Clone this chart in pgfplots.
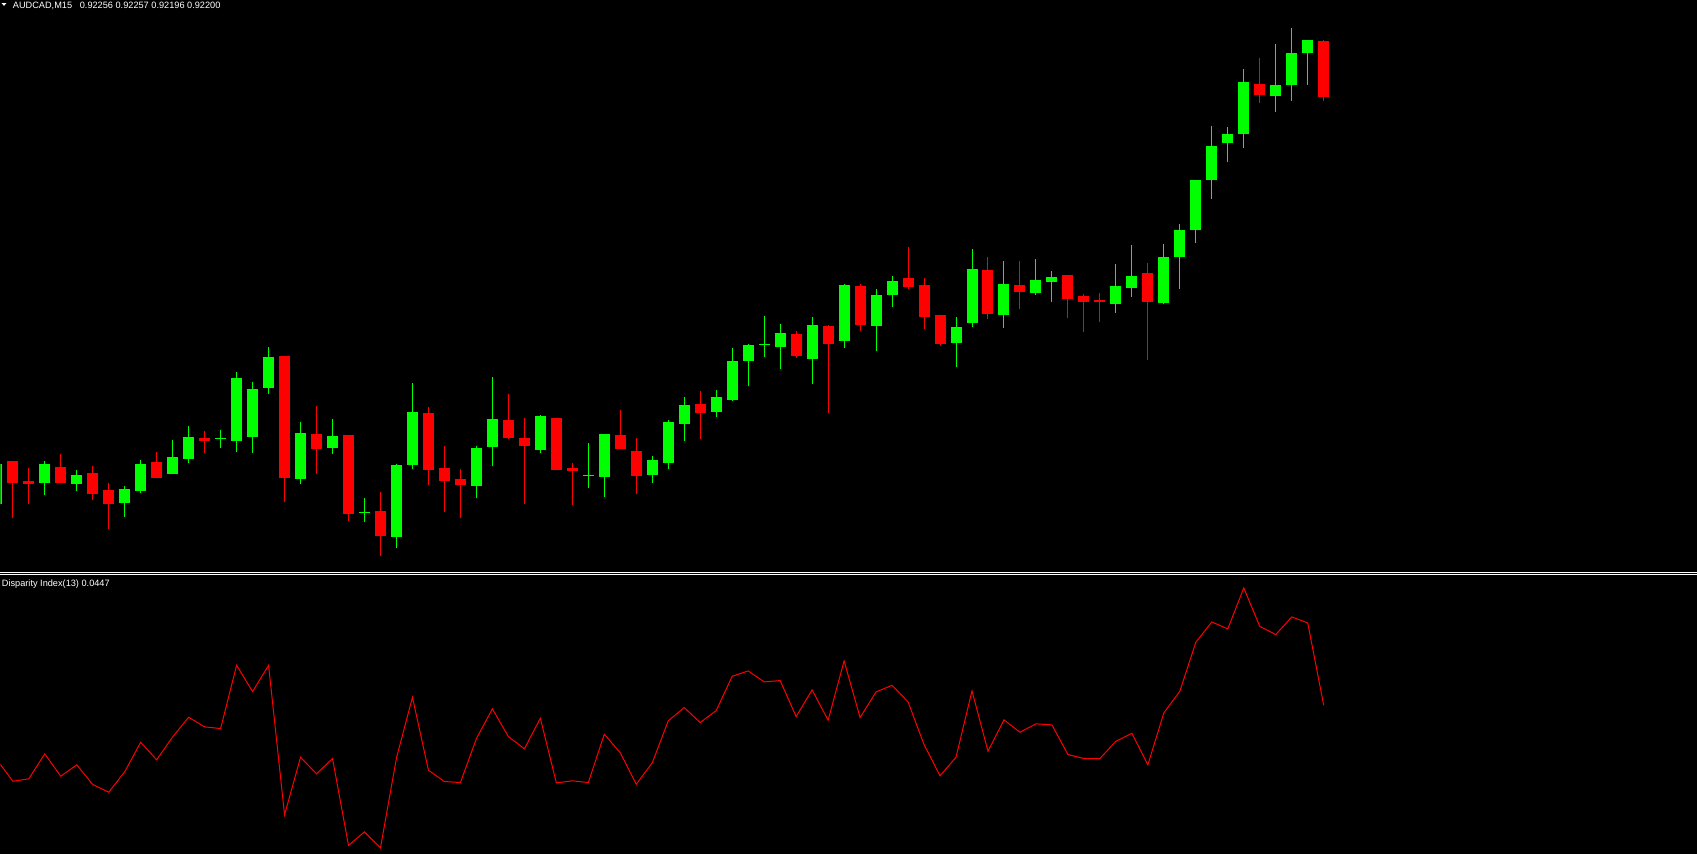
\documentclass[border=0pt]{standalone}
\usepackage{fontspec}
\setmainfont{Liberation Sans}
\usepackage{pgfplots}
\usepackage{pgfplotstable}
\pgfplotsset{compat=1.18}

\definecolor{mtgreen}{RGB}{0,255,0}
\definecolor{mtred}{RGB}{255,0,0}

% AUDCAD M15 candles: bar index, open, high, low, close
\pgfplotstableread{
i O H L C
-1 0.91793 0.91842 0.91780 0.91833
2 0.91814 0.91836 0.91802 0.91833
4 0.91813 0.91827 0.91806 0.91822
7 0.91794 0.91811 0.91780 0.91808
8 0.91806 0.91837 0.91804 0.91833
10 0.91823 0.91857 0.91823 0.91840
11 0.91838 0.91871 0.91834 0.91860
13 0.91858 0.91867 0.91849 0.91859
14 0.91856 0.91925 0.91845 0.91919
15 0.91860 0.91915 0.91844 0.91908
16 0.91909 0.91950 0.91903 0.91940
18 0.91818 0.91875 0.91813 0.91864
20 0.91849 0.91878 0.91843 0.91861
22 0.91784 0.91799 0.91775 0.91785
24 0.91760 0.91833 0.91749 0.91832
25 0.91832 0.91914 0.91828 0.91885
29 0.91811 0.91851 0.91799 0.91849
30 0.91850 0.91920 0.91831 0.91878
33 0.91847 0.91882 0.91844 0.91881
36 0.91821 0.91854 0.91809 0.91822
37 0.91820 0.91863 0.91800 0.91863
40 0.91822 0.91841 0.91814 0.91837
41 0.91834 0.91877 0.91828 0.91875
42 0.91873 0.91900 0.91856 0.91892
44 0.91885 0.91907 0.91880 0.91900
45 0.91897 0.91949 0.91896 0.91936
46 0.91936 0.91953 0.91911 0.91952
47 0.91952 0.91981 0.91940 0.91953
48 0.91950 0.91973 0.91928 0.91964
50 0.91938 0.91980 0.91913 0.91972
52 0.91956 0.92013 0.91949 0.92012
54 0.91971 0.92008 0.91946 0.92002
55 0.92002 0.92021 0.91990 0.92016
59 0.91954 0.91980 0.91930 0.91970
60 0.91974 0.92048 0.91970 0.92028
62 0.91982 0.92036 0.91969 0.92013
64 0.92004 0.92038 0.92002 0.92017
65 0.92015 0.92026 0.91995 0.92020
69 0.91993 0.92033 0.91984 0.92011
70 0.92009 0.92052 0.92000 0.92021
72 0.91994 0.92053 0.91993 0.92040
73 0.92040 0.92073 0.92008 0.92067
74 0.92067 0.92117 0.92054 0.92117
75 0.92117 0.92171 0.92098 0.92151
76 0.92154 0.92170 0.92135 0.92163
77 0.92163 0.92228 0.92149 0.92215
79 0.92201 0.92253 0.92185 0.92212
80 0.92212 0.92269 0.92196 0.92244
81 0.92244 0.92257 0.92212 0.92257
}\bull

\pgfplotstableread{
i O H L C
0 0.91836 0.91836 0.91779 0.91814
1 0.91816 0.91829 0.91793 0.91813
3 0.91830 0.91843 0.91814 0.91814
5 0.91824 0.91831 0.91797 0.91803
6 0.91807 0.91814 0.91768 0.91793
9 0.91835 0.91845 0.91819 0.91819
12 0.91859 0.91866 0.91844 0.91856
17 0.91941 0.91941 0.91795 0.91819
19 0.91863 0.91891 0.91823 0.91848
21 0.91862 0.91862 0.91776 0.91783
23 0.91786 0.91805 0.91741 0.91761
26 0.91884 0.91890 0.91812 0.91827
27 0.91829 0.91851 0.91785 0.91816
28 0.91818 0.91828 0.91779 0.91812
31 0.91877 0.91903 0.91858 0.91859
32 0.91859 0.91879 0.91793 0.91851
34 0.91879 0.91879 0.91827 0.91827
35 0.91829 0.91834 0.91792 0.91826
38 0.91862 0.91887 0.91848 0.91848
39 0.91846 0.91859 0.91803 0.91821
43 0.91893 0.91906 0.91858 0.91884
49 0.91963 0.91966 0.91939 0.91941
51 0.91971 0.91972 0.91884 0.91953
53 0.92011 0.92013 0.91966 0.91972
56 0.92019 0.92050 0.92008 0.92010
57 0.92012 0.92019 0.91968 0.91980
58 0.91982 0.91982 0.91951 0.91953
61 0.92027 0.92040 0.91978 0.91983
63 0.92012 0.92036 0.91988 0.92005
66 0.92022 0.92022 0.91979 0.91998
67 0.92001 0.92003 0.91965 0.91995
68 0.91997 0.92004 0.91975 0.91995
71 0.92024 0.92034 0.91937 0.91995
78 0.92213 0.92239 0.92194 0.92202
82 0.92256 0.92257 0.92196 0.92200
}\bear

% Disparity Index(13)
\pgfplotstableread{
i D
-1 -0.0096
0 -0.0313
1 -0.0289
2 -0.0039
3 -0.0263
4 -0.0149
5 -0.0346
6 -0.0423
7 -0.0219
8 0.0077
9 -0.0099
10 0.0131
11 0.0327
12 0.0231
13 0.0214
14 0.0847
15 0.0584
16 0.0847
17 -0.0649
18 -0.0073
19 -0.0239
20 -0.0086
21 -0.0956
22 -0.0819
23 -0.0979
24 -0.0079
25 0.0527
26 -0.0203
27 -0.0316
28 -0.0326
29 0.0114
30 0.0411
31 0.0134
32 0.0011
33 0.0317
34 -0.0329
35 -0.0309
36 -0.0326
37 0.0157
38 -0.0029
39 -0.0343
40 -0.0129
41 0.0291
42 0.0424
43 0.0274
44 0.0394
45 0.0737
46 0.0791
47 0.0681
48 0.0694
49 0.0334
50 0.0601
51 0.0297
52 0.0891
53 0.0324
54 0.0581
55 0.0647
56 0.0481
57 0.0054
58 -0.0259
59 -0.0073
60 0.0591
61 -0.0013
62 0.0301
63 0.0177
64 0.0261
65 0.0251
66 -0.0046
67 -0.0086
68 -0.0086
69 0.0087
70 0.0167
71 -0.0149
72 0.0371
73 0.0587
74 0.1077
75 0.1281
76 0.1211
77 0.1621
78 0.1237
79 0.1154
80 0.1331
81 0.1271
82 0.0447
}\disparity

\pgfplotsset{
  mtpanel/.style={
    scale only axis, width=848.5pt, hide axis, clip=true,
    xmin=-0.76875, xmax=105.31875, anchor=south west,
  },
  wick/.style={line width=0.5pt, quiver={u=0, v=\thisrow{H}-\thisrow{L}}},
}

\begin{document}
\begin{tikzpicture}
\fill[black] (0pt,0pt) rectangle (848.5pt,427.5pt);

\begin{axis}[mtpanel, at={(0pt,141.5pt)}, height=286pt,
  ymin=0.91725, ymax=0.92297]
\addplot[mtgreen, wick] table[x=i, y=L] {\bull};
\addplot[mtred, wick] table[x=i, y=L] {\bear};
\addplot[mtgreen, line width=5.5pt, quiver={u=0, v=\thisrow{C}-\thisrow{O}}]
  table[x=i, y=O] {\bull};
\addplot[mtred, line width=5.5pt, quiver={u=0, v=\thisrow{O}-\thisrow{C}}]
  table[x=i, y=C] {\bear};
\end{axis}

\begin{axis}[mtpanel, at={(0pt,0pt)}, height=139.5pt,
  ymin=-0.1046, ymax=0.1744]
\addplot[mtred, line width=0.5pt] table[x=i, y=D] {\disparity};
\end{axis}

\draw[white, line width=0.5pt] (0pt,141.1pt) -- (848.5pt,141.1pt);
\draw[white, line width=0.5pt] (0pt,140.1pt) -- (848.5pt,140.1pt);

\fill[white] (0.5pt,425.9pt) -- (3pt,425.9pt) -- (1.75pt,424.6pt) -- cycle;
\node[anchor=base west, inner sep=0pt, text=white, font=\fontsize{4.6pt}{5pt}\selectfont]
  at (6pt,423.3pt) {AUDCAD,M15\hspace{3.85pt}0.92256 0.92257 0.92196 0.92200};
\node[anchor=base west, inner sep=0pt, text=white, font=\fontsize{4.6pt}{5pt}\selectfont]
  at (0.5pt,134pt) {Disparity Index(13) 0.0447};
\end{tikzpicture}
\end{document}
